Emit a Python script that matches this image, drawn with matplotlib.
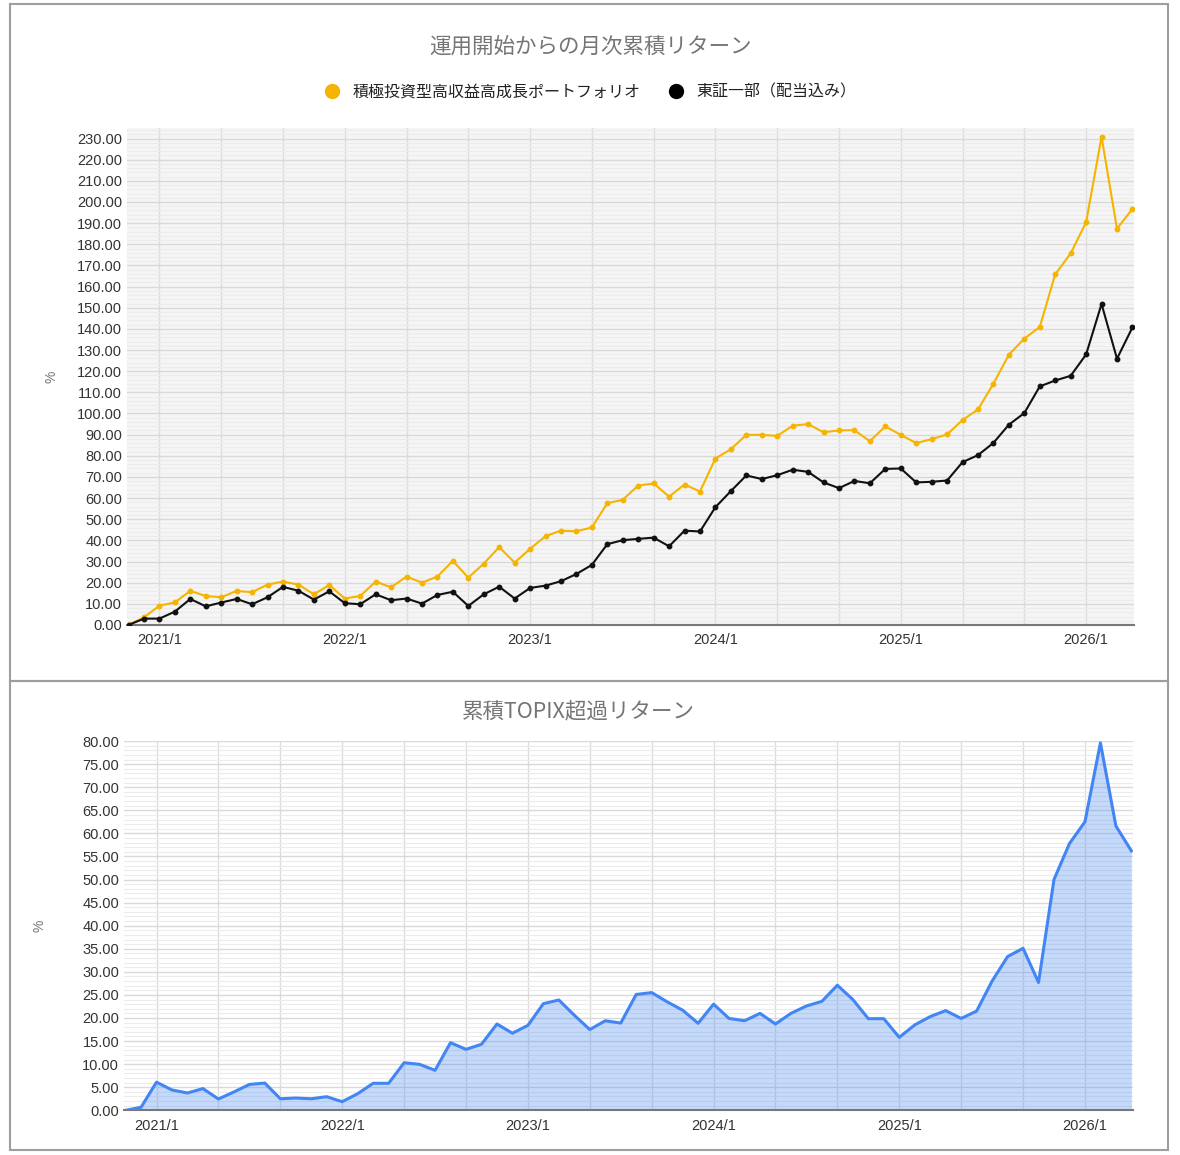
import numpy as np
import pandas as pd
import matplotlib
matplotlib.use('Agg')
import matplotlib.pyplot as plt
from matplotlib.lines import Line2D
from matplotlib.patches import Rectangle

plt.rcParams['font.family'] = ['Liberation Sans', 'Noto Sans CJK JP', 'DejaVu Sans']

# 月次データ (2020/11 - 2026/4)
dates = pd.date_range('2020-11-01', periods=66, freq='MS')

portfolio = [0, 3.6, 9.1, 10.7, 16.1, 13.7, 13.1, 16.1, 15.5, 19.1, 20.5, 19.1,
             14.5, 18.9, 12.5, 13.7, 20.5, 17.8, 22.9, 20.0, 22.9, 30.3, 22.4, 29.0,
             36.8, 29.5, 36.0, 42.0, 44.6, 44.3, 46.1, 57.6, 59.2, 65.9, 66.9, 60.7,
             66.4, 63.1, 78.7, 83.1, 89.9, 89.9, 89.4, 94.2, 95.0, 91.1, 92.0, 92.1,
             86.9, 93.9, 89.9, 86.0, 87.9, 90.1, 96.9, 101.9, 114.1, 127.8, 135.4, 140.9,
             165.8, 175.7, 190.4, 230.8, 187.4, 196.7]

topix = [0, 3.0, 3.0, 6.3, 12.3, 8.8, 10.6, 12.3, 9.8, 13.1, 18.0, 16.2,
         12.0, 15.9, 10.3, 9.8, 14.5, 11.7, 12.5, 10.1, 14.2, 15.7, 9.0, 14.5,
         18.1, 12.5, 17.5, 18.6, 20.7, 24.1, 28.4, 38.2, 40.1, 40.7, 41.3, 37.2,
         44.6, 44.2, 55.7, 63.3, 70.7, 69.0, 70.8, 73.4, 72.4, 67.4, 64.7, 68.1,
         67.0, 73.8, 74.0, 67.4, 67.7, 68.3, 77.0, 80.3, 86.1, 94.7, 100.2, 112.8,
         115.6, 117.8, 127.9, 151.8, 125.9, 140.7]

excess = [0, 0.65, 6.1, 4.4, 3.75, 4.7, 2.45, 3.97, 5.6, 5.9, 2.5, 2.66,
          2.5, 2.95, 1.87, 3.6, 5.85, 5.85, 10.3, 9.96, 8.66, 14.65, 13.2, 14.3,
          18.7, 16.7, 18.4, 23.1, 23.9, 20.6, 17.5, 19.4, 18.9, 25.1, 25.5, 23.5,
          21.7, 18.85, 23.0, 19.9, 19.4, 21.0, 18.7, 21.0, 22.6, 23.6, 27.1, 24.0,
          19.85, 19.85, 15.8, 18.5, 20.3, 21.6, 19.9, 21.5, 28.0, 33.3, 35.1, 27.7,
          50.0, 57.8, 62.5, 79.6, 61.6, 56.2]

title_top = '運用開始からの月次累積リターン'
title_bottom = '累積TOPIX超過リターン'
label_pf = '積極投資型高収益高成長ポートフォリオ'
label_tp = '東証一部（配当込み）'

YELLOW = '#f4b400'
BLUE = '#4285f4'
TEXT = '#333333'
TITLE = '#757575'

x = np.arange(len(dates))
tick_pos = x[dates.month == 1]
tick_lab = [f'{d.year}/1' for d in dates[dates.month == 1]]
vgrid = x[(dates.month - 1) % 4 == 0]

fig = plt.figure(figsize=(11.8, 11.55), dpi=100)


def style_axes(ax, ymax, major, minor):
    ax.set_xlim(-0.1, len(x) - 0.9)
    ax.set_ylim(0, ymax)
    ax.set_yticks(np.arange(0, ymax + 0.01, major))
    ax.set_yticks(np.arange(0, ymax + 0.01, minor), minor=True)
    ax.set_yticklabels([f'{v:.2f}' for v in np.arange(0, ymax + 0.01, major)])
    ax.set_xticks(tick_pos)
    ax.set_xticklabels(tick_lab)
    ax.grid(which='minor', axis='y', color='#ececec', linewidth=0.8)
    ax.grid(which='major', axis='y', color='#d9d9d9', linewidth=1.0)
    for v in vgrid:
        ax.axvline(v, color='#dcdcdc', linewidth=1.0, zorder=0.5)
    ax.set_axisbelow(True)
    for s in ['top', 'right', 'left']:
        ax.spines[s].set_visible(False)
    ax.spines['bottom'].set_color('#777777')
    ax.spines['bottom'].set_linewidth(1.5)
    ax.tick_params(axis='both', which='both', length=0, labelsize=10.5,
                   labelcolor=TEXT)
    ax.tick_params(axis='x', pad=6)


# 上段: 月次累積リターン
ax1 = fig.add_axes([0.1076, 0.4589, 0.8534, 0.4303])
ax1.set_facecolor('#f5f5f5')
style_axes(ax1, 235, 10, 2)
ax1.plot(x, portfolio, color=YELLOW, linewidth=1.5, marker='o', markersize=3.2,
         zorder=3)
ax1.plot(x, topix, color='#111111', linewidth=1.5, marker='o', markersize=3.2,
         zorder=3)
ax1.set_ylabel('%', color=TITLE, fontsize=10, labelpad=13)

fig.text(0.5, 1 - 48 / 1155, title_top, ha='center', va='center',
         fontsize=15.5, color=TITLE, family=['Noto Sans CJK JP', 'DejaVu Sans'])
handles = [Line2D([], [], linestyle='none', marker='o', markersize=10,
                  color=YELLOW, label=label_pf),
           Line2D([], [], linestyle='none', marker='o', markersize=10,
                  color='black', label=label_tp)]
fig.legend(handles=handles, loc='center', bbox_to_anchor=(0.497, 1 - 92 / 1155),
           ncol=2, frameon=False, handletextpad=0.3, columnspacing=1.2,
           prop={'family': ['Noto Sans CJK JP', 'DejaVu Sans'], 'size': 11.5},
           labelcolor='#222222')

# 下段: 累積TOPIX超過リターン
ax2 = fig.add_axes([0.1051, 0.0387, 0.855, 0.3197])
ax2.set_facecolor('white')
style_axes(ax2, 80, 5, 1)
ax2.fill_between(x, 0, excess, color=BLUE, alpha=0.3, linewidth=0, zorder=2)
ax2.plot(x, excess, color=BLUE, linewidth=2.2, zorder=3)
ax2.set_ylabel('%', color=TITLE, fontsize=10, labelpad=26)

fig.text(0.49, 1 - 711 / 1155, title_bottom, ha='center', va='center',
         fontsize=15.5, color=TITLE, family=['Noto Sans CJK JP', 'DejaVu Sans'])

# 枠線
fig.add_artist(Rectangle((10 / 1180, 1 - 681 / 1155), 1158 / 1180, 677 / 1155,
                         transform=fig.transFigure, fill=False,
                         edgecolor='#9e9e9e', linewidth=1.5))
fig.add_artist(Rectangle((10 / 1180, 1 - 1150 / 1155), 1158 / 1180, 469 / 1155,
                         transform=fig.transFigure, fill=False,
                         edgecolor='#9e9e9e', linewidth=1.5))

fig.savefig('out.png', dpi=100)
